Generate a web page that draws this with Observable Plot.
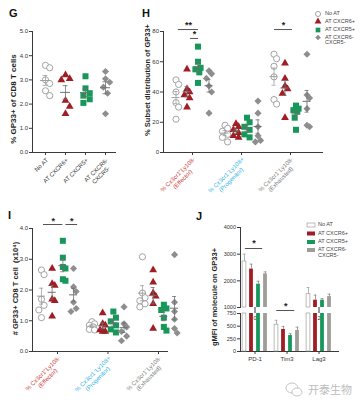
<!DOCTYPE html>
<html><head><meta charset="utf-8">
<script src="https://cdn.jsdelivr.net/npm/d3@7"></script>
<script src="https://cdn.jsdelivr.net/npm/@observablehq/plot@0.6"></script>
<style>
html,body{margin:0;padding:0;background:#fff;}
#root{position:relative;width:360px;height:406px;overflow:hidden;font-family:"Liberation Sans",Arial,Helvetica,sans-serif;}
#root svg{overflow:visible;}
.letter{position:absolute;font-weight:bold;font-size:11px;line-height:11px;color:#111;}
</style></head>
<body><div id="root"></div>
<script>
// ---------------- DATA ----------------
const groups = ["No AT","AT CXCR6+","AT CXCR5+","AT CXCR6-CXCR5-"];
const groupTickLine1 = ["No AT","AT CXCR6+","AT CXCR5+","AT CXCR6-"];
const groupTickLine2 = ["","","","CXCR5-"];
const legendLine1 = ["No AT","AT CXCR6+","AT CXCR5+","AT CXCR6-"];
const legendLine2 = ["","","","CXCR5-"];

// Panel G: % GP33+ of CD8 T cells, per group
const gp33OfCD8 = [
  [3.6,3.5,3.0,2.85,2.55,2.35],
  [3.2,3.05,3.0,2.15,1.9,1.6],
  [3.15,2.65,2.45,2.35,2.2,2.05],
  [3.35,3.05,2.9,2.7,2.45,1.6]
];

// subsets
const subsetLine1 = ["% Cx3cr1\u207ALy108-","% Cx3cr1\u207BLy108+","% Cx3cr1\u207BLy108-"];
const subsetLine2 = ["(Effector)","(Progenitor)","(Exhausted)"];
const subsetColors = ["#cc3d3d","#35b3e2","#7d7d7d"];

// Panel H: % subset distribution of GP33+ (per group)
const pctEffector   = [[48,45,40,33,30,22],[55,42,40,38,36,30],[70,60,56,55,53,46],[54,52,49,44,40,26]];
const pctProgenitor = [[18,16,14,12,10,7],[19,17,15,13,11,10],[23,20,17,15,12,10],[34,26,17,11,8,7]];
const pctExhausted  = [[65,62,57,50,35,32],[59,49,44,42,39,23],[31,29,28,27,23,15],[65,38,36,29,18,17]];

// Panel I: # GP33+ CD8 T cell (x10^4)
const numEffector   = [[2.65,2.5,1.7,1.5,1.35,1.1],[2.7,2.2,2.15,1.7,1.65,1.15],[3.6,3.05,2.75,2.7,2.35,2.3],[2.7,2.1,1.95,1.6,1.4,1.3]];
const numProgenitor = [[0.97,0.9,0.85,0.8,0.72,0.7],[1.25,0.9,0.85,0.7,0.65,0.65],[1.3,1.1,0.98,0.85,0.72,0.62],[1.45,0.9,0.8,0.65,0.5,0.35]];
const numExhausted  = [[3.08,1.9,1.75,1.65,1.55,1.45],[2.65,2.25,1.9,1.8,1.55,0.75],[1.52,1.4,1.35,1.1,0.8,0.68],[3.15,1.6,1.3,1.05,0.75,0.6]];

// Panel J: gMFI of molecule on GP33+ (mean, SEM) per group x molecule
const molecules = ["PD-1","Tim3","Lag3"];
const gmfiMean = [[2725,530,1500],[2440,435,1275],[1875,315,1275],[2260,415,1410]];
const gmfiErr  = [[275,85,250],[185,60,190],[110,35,60],[75,65,90]];

// axis ticks
const gTicks = [0,1,2,3,4,5];
const hTicks = [0,20,40,60,80];
const iTicks = [0,1,2,3,4];
const jUpperTicks = [1000,2000,3000,4000];
const jLowerTicks = [0,250,500,750];

// ---------------- STYLE ----------------
const FONT = '"Liberation Sans", Arial, Helvetica, sans-serif';
const AXIS = "#3a3a3a";
const STY = [
  {symbol:"circle",   r:3.1, fill:"white",   stroke:"#a3a3a3", sw:1, meanColor:"#a0a0a0", barFill:"white",   barStroke:"#a0a0a0", err:"#a0a0a0"},
  {symbol:"triangle", r:2.9, fill:"#a11d24", stroke:"none",    sw:0, meanColor:"#707070", barFill:"#a11d24", barStroke:"none",    err:"#8a8a8a"},
  {symbol:"square",   r:3.4, fill:"#17985a", stroke:"none",    sw:0, meanColor:"#707070", barFill:"#17985a", barStroke:"none",    err:"#8a8a8a"},
  {symbol:"diamond2", r:3.2, fill:"#8e8e8e", stroke:"none",    sw:0, meanColor:"#707070", barFill:"#9d9d99", barStroke:"none",    err:"#8a8a8a"}
];

const root = document.getElementById("root");
function place(el, left, top){ el.style.position="absolute"; el.style.left=left+"px"; el.style.top=top+"px"; root.appendChild(el); return el; }
const ctx = document.createElement("canvas").getContext("2d");
function textW(s, fs){ ctx.font = `${fs}px ${FONT}`; return ctx.measureText(s).width; }

function beeswarm(vals, pxY, step){
  const idx = d3.range(vals.length).sort((a,b)=>vals[b]-vals[a]);
  const placed = [], off = new Array(vals.length);
  const cands = [0, step, -step, step*0.5, -step*0.5];
  const D = 6.5;
  for (const i of idx){
    const y = vals[i]*pxY;
    let best = 0, bestScore = -Infinity;
    for (const c of cands){
      let md = Infinity;
      for (const p of placed) md = Math.min(md, Math.hypot(p.x-c, p.y-y));
      const score = Math.min(md, D) - Math.abs(c)*0.01;
      if (score > bestScore + 1e-9){ bestScore = score; best = c; }
    }
    placed.push({x:best, y}); off[i] = best;
  }
  return off;
}

function rotLabelMarks(cats, line1, line2, colors, fs, yBase, dyBase){
  const a = Math.PI/4, u=[Math.cos(a), -Math.sin(a)], n=[Math.sin(a), Math.cos(a)], lh = fs*1.15;
  const marks = [];
  cats.forEach((c,i)=>{
    marks.push(Plot.text([c], {x:d=>d, y:()=>yBase, text:()=>line1[i], rotate:-45, textAnchor:"end", lineAnchor:"top", dy:dyBase, fill:colors[i], fontSize:fs}));
    if (line2[i]){
      const L1 = textW(line1[i], fs);
      const dx = -L1/2*u[0] + lh*n[0], dy = dyBase - L1/2*u[1] + lh*n[1];
      marks.push(Plot.text([c], {x:d=>d, y:()=>yBase, text:()=>line2[i], rotate:-45, textAnchor:"middle", lineAnchor:"top", dx, dy, fill:colors[i], fontSize:fs}));
    }
  });
  return marks;
}

function dotPanel(o){
  const pxX = (o.xRange[1]-o.xRange[0])/(o.xDomain[1]-o.xDomain[0]);
  const frameH = o.height - o.mT - o.mB;
  const pxY = frameH/(o.yDomain[1]-o.yDomain[0]);
  const dots = [], stats = [];
  for (const it of o.items){
    const off = beeswarm(it.vals, pxY, o.swarmStep);
    it.vals.forEach((v,i)=>dots.push({x: it.xc + off[i]/pxX, y: v, grp: it.grp}));
    const m = d3.mean(it.vals), s = d3.deviation(it.vals)/Math.sqrt(it.vals.length);
    stats.push({xc: it.xc, m, lo: m-s, hi: m+s, grp: it.grp});
  }
  const mh = o.meanHalf/pxX, ch = o.capHalf/pxX;
  const marks = [
    Plot.frame({anchor:"left", stroke:AXIS}),
    Plot.frame({anchor:"bottom", stroke:AXIS}),
    Plot.axisY({ticks:o.yTicks, tickSize:3, tickPadding:1.5, fontSize:o.fs, stroke:AXIS, fill:"#333", label:null}),
    Plot.axisX({ticks:o.cats, tickSize:3, tickFormat:()=>"", stroke:AXIS, label:null})
  ];
  for (let g=0; g<4; g++){
    const s = STY[g];
    marks.push(Plot.dot(dots.filter(d=>d.grp===g), {x:"x", y:"y", symbol:s.symbol, r:s.r, fill:s.fill, stroke:s.stroke, strokeWidth:s.sw}));
  }
  for (let g=0; g<4; g++){
    const st = stats.filter(d=>d.grp===g), c = STY[g].meanColor;
    marks.push(Plot.ruleY(st, {y:"m", x1:d=>d.xc-mh, x2:d=>d.xc+mh, stroke:c, strokeWidth:1}));
    marks.push(Plot.ruleX(st, {x:"xc", y1:"lo", y2:"hi", stroke:c, strokeWidth:0.8}));
    marks.push(Plot.ruleY(st, {y:"lo", x1:d=>d.xc-ch, x2:d=>d.xc+ch, stroke:c, strokeWidth:0.8}));
    marks.push(Plot.ruleY(st, {y:"hi", x1:d=>d.xc-ch, x2:d=>d.xc+ch, stroke:c, strokeWidth:0.8}));
  }
  marks.push(...rotLabelMarks(o.cats, o.line1, o.line2, o.colors, o.fs, o.yDomain[0], o.labDyBase));
  marks.push(Plot.text([o.ylabel], {frameAnchor:"left", text:d=>d, rotate:-90, textAnchor:"middle", lineAnchor:"middle", dx:o.labDx, dy:o.labDy, fontSize:o.labFs, fontWeight:"bold", fill:"#1e1e1e"}));
  if (o.stars){
    marks.push(Plot.ruleY(o.stars, {y:"y", x1:"x1", x2:"x2", stroke:"#555", strokeWidth:1}));
    marks.push(Plot.text(o.stars, {x:d=>(d.x1+d.x2)/2, y:"ty", text:"label", fontSize:9, fontWeight:"bold", fill:"#222"}));
  }
  const svg = Plot.plot({
    width:o.width, height:o.height,
    marginLeft:o.mL, marginRight:o.mR, marginTop:o.mT, marginBottom:o.mB,
    x:{type:"linear", domain:o.xDomain, range:o.xRange, label:null},
    y:{type:"linear", domain:o.yDomain, label:null},
    style:{fontFamily:FONT, fontSize:o.fs+"px", background:"transparent", overflow:"visible", color:"#333"},
    marks
  });
  place(svg, o.left, o.top);
}

// ---------------- PANEL G ----------------
dotPanel({
  left:0, top:0, width:125, height:200, mL:32, mR:10, mT:31, mB:48,
  xDomain:[0,3], xRange:[45,105], yDomain:[0,5], yTicks:gTicks,
  items: groups.map((g,i)=>({xc:i, grp:i, vals:gp33OfCD8[i]})),
  swarmStep:4.2, meanHalf:5, capHalf:2.5, fs:6,
  cats:[0,1,2,3], line1:groupTickLine1, line2:groupTickLine2, colors:["#333","#333","#333","#333"], labDyBase:5,
  ylabel:"% GP33+ of CD8 T cells", labDx:-19, labDy:7, labFs:8
});

// ---------------- PANEL H ----------------
const hSeries = [pctEffector, pctProgenitor, pctExhausted];
const hPxX = 49, hSub = 11/hPxX;
const hPos = (c,g)=> c + (g-1.5)*hSub;
dotPanel({
  left:130, top:0, width:230, height:200, mL:33, mR:38, mT:31, mB:48,
  xDomain:[0,2], xRange:[62,160], yDomain:[0,80], yTicks:hTicks,
  items: hSeries.flatMap((ser,c)=>ser.map((vals,g)=>({xc:hPos(c,g), grp:g, vals}))),
  swarmStep:2.6, meanHalf:4, capHalf:2, fs:6,
  cats:[0,1,2], line1:subsetLine1, line2:subsetLine2, colors:subsetColors, labDyBase:4,
  ylabel:"% Subset distribution of GP33+", labDx:-16, labDy:-12, labFs:7.5,
  stars:[
    {x1:hPos(0,0)+0.05, x2:hPos(0,2)+0.01, y:81.3, ty:84.3, label:"**"},
    {x1:hPos(0,1)+0.07, x2:hPos(0,2)+0.01, y:75.4, ty:78.4, label:"*"},
    {x1:hPos(2,0)+0.01, x2:hPos(2,2)-0.07, y:81.3, ty:84.3, label:"*"}
  ]
});

// ---------------- PANEL I ----------------
const iSeries = [numEffector, numProgenitor, numExhausted];
const iPxX = 50.5, iSub = 10.7/iPxX;
const iPos = (c,g)=> c + (g-1.5)*iSub;
dotPanel({
  left:0, top:200, width:185, height:206, mL:32, mR:18, mT:28, mB:55,
  xDomain:[0,2], xRange:[57,158], yDomain:[0,4], yTicks:iTicks,
  items: iSeries.flatMap((ser,c)=>ser.map((vals,g)=>({xc:iPos(c,g), grp:g, vals}))),
  swarmStep:2.6, meanHalf:4, capHalf:2, fs:6,
  cats:[0,1,2], line1:subsetLine1, line2:subsetLine2, colors:subsetColors, labDyBase:4,
  ylabel:"# GP33+ CD8 T cell  (x10\u2074)", labDx:-17, labDy:-1.5, labFs:7.5,
  stars:[
    {x1:iPos(0,0)+0.04, x2:iPos(0,2), y:4.13, ty:4.25, label:"*"},
    {x1:iPos(0,2)+0.06, x2:iPos(0,3)+0.08, y:4.13, ty:4.25, label:"*"}
  ]
});

// ---------------- PANEL J ----------------
const jPx = 32;
const J_X = {type:"linear", domain:[0,2], range:[64.5,128.5], label:null};
const jRows = [];
molecules.forEach((m,mi)=>groups.forEach((g,gi)=>jRows.push({mi, gi, xc: mi + (gi-1.5)*7/jPx, v: gmfiMean[gi][mi], e: gmfiErr[gi][mi]})));
const bhw = 1.9/jPx, jch = 1.4/jPx;
function barMarks(lo, hi){
  const ms = [];
  for (let g=0; g<4; g++){
    const s = STY[g];
    const r = jRows.filter(d=>d.gi===g && d.v>lo);
    ms.push(Plot.rect(r, {x1:d=>d.xc-bhw, x2:d=>d.xc+bhw, y1:()=>lo, y2:d=>Math.min(d.v,hi), fill:s.barFill, stroke:s.barStroke, strokeWidth:0.7}));
    const re = r.filter(d=>d.v+d.e<=hi && d.v<hi);
    ms.push(Plot.ruleX(re, {x:"xc", y1:"v", y2:d=>d.v+d.e, stroke:s.err, strokeWidth:0.8}));
    ms.push(Plot.ruleY(re, {y:d=>d.v+d.e, x1:d=>d.xc-jch, x2:d=>d.xc+jch, stroke:s.err, strokeWidth:0.8}));
  }
  return ms;
}
const jStyle = {fontFamily:FONT, fontSize:"5.5px", background:"transparent", overflow:"visible", color:"#333"};
const jUpperStars = [{x1:-0.3, x2:0.24, y:3212, ty:3420, label:"*"}];
const jLowerStars = [{x1:0.68, x2:1.24, y:809, ty:905, label:"*"}];
const jUpper = Plot.plot({
  width:170, height:88, marginLeft:50, marginRight:22, marginTop:7, marginBottom:1,
  x:J_X, y:{type:"linear", domain:[1000,4000], label:null}, style:jStyle,
  marks:[
    Plot.frame({anchor:"left", stroke:AXIS}),
    Plot.axisY({ticks:jUpperTicks, tickFormat:d3.format("d"), tickSize:3, tickPadding:1.5, fontSize:5.5, stroke:AXIS, label:null}),
    ...barMarks(1000, 4000),
    Plot.ruleY(jUpperStars, {y:"y", x1:"x1", x2:"x2", stroke:"#555", strokeWidth:1}),
    Plot.text(jUpperStars, {x:d=>(d.x1+d.x2)/2, y:"ty", text:"label", fontSize:9, fontWeight:"bold", fill:"#222"})
  ]
});
place(jUpper, 190, 220);
const jLower = Plot.plot({
  width:170, height:63, marginLeft:50, marginRight:22, marginTop:5, marginBottom:20,
  x:J_X, y:{type:"linear", domain:[0,750], label:null}, style:jStyle,
  marks:[
    Plot.frame({anchor:"left", stroke:AXIS}),
    Plot.frame({anchor:"bottom", stroke:AXIS}),
    Plot.axisY({ticks:jLowerTicks, tickFormat:d3.format("d"), tickSize:3, tickPadding:1.5, fontSize:5.5, stroke:AXIS, label:null}),
    Plot.axisX({ticks:[0,1,2], tickFormat:d=>molecules[d], tickSize:3, tickPadding:2, fontSize:6, stroke:AXIS, label:null}),
    ...barMarks(0, 750),
    Plot.ruleY(jLowerStars, {y:"y", x1:"x1", x2:"x2", stroke:"#555", strokeWidth:1}),
    Plot.text(jLowerStars, {x:d=>(d.x1+d.x2)/2, y:"ty", text:"label", fontSize:9, fontWeight:"bold", fill:"#222"})
  ]
});
place(jLower, 190, 308);

// J y label
{
  const s = d3.create("svg").attr("width",16).attr("height",130);
  s.append("text").attr("transform","translate(9,65) rotate(-90)").attr("text-anchor","middle").attr("dominant-baseline","middle")
    .attr("font-family",FONT).attr("font-size",7.5).attr("font-weight","bold").attr("fill","#1e1e1e").text("gMFI of molecule on GP33+");
  place(s.node(), 206, 232);
}

// ---------------- LEGENDS ----------------
{
  const s = d3.create("svg").attr("width",48).attr("height",44);
  const rowsY = [6,13.5,22,29.5];
  const syms = [d3.symbolCircle, d3.symbolTriangle, d3.symbolSquare, d3.symbolDiamond2];
  const sizes = [20, 20, 22, 20];
  groups.forEach((g,i)=>{
    s.append("path").attr("d", d3.symbol(syms[i], sizes[i])()).attr("transform",`translate(6,${rowsY[i]})`)
      .attr("fill", STY[i].fill).attr("stroke", STY[i].stroke).attr("stroke-width", STY[i].sw);
    s.append("text").attr("x",13).attr("y",rowsY[i]).attr("dominant-baseline","middle")
      .attr("font-family",FONT).attr("font-size",5.5).attr("fill","#444").text(legendLine1[i]);
    if (legendLine2[i]) s.append("text").attr("x",13).attr("y",rowsY[i]+5.5).attr("dominant-baseline","middle")
      .attr("font-family",FONT).attr("font-size",5.5).attr("fill","#444").text(legendLine2[i]);
  });
  place(s.node(), 312, 8);
}
{
  const s = d3.create("svg").attr("width",55).attr("height",44);
  const rowsY = [6,14.5,23,31];
  groups.forEach((g,i)=>{
    s.append("rect").attr("x",2).attr("y",rowsY[i]-2).attr("width",8).attr("height",4)
      .attr("fill", STY[i].barFill).attr("stroke", STY[i].barStroke).attr("stroke-width",0.7);
    s.append("text").attr("x",13).attr("y",rowsY[i]).attr("dominant-baseline","middle")
      .attr("font-family",FONT).attr("font-size",5.5).attr("fill","#444").text(legendLine1[i]);
    if (legendLine2[i]) s.append("text").attr("x",13).attr("y",rowsY[i]+5.5).attr("dominant-baseline","middle")
      .attr("font-family",FONT).attr("font-size",5.5).attr("fill","#444").text(legendLine2[i]);
  });
  place(s.node(), 305, 219);
}

// ---------------- LETTERS & WATERMARK ----------------
[["G",9,8],["H",142,8],["I",8,210],["J",196,211]].forEach(([t,x,y])=>{
  const d = document.createElement("div"); d.className="letter"; d.textContent=t; place(d,x,y);
});
{
  const s = d3.create("svg").attr("width",75).attr("height",20);
  s.append("ellipse").attr("cx",8).attr("cy",8).attr("rx",6).attr("ry",5).attr("fill","none").attr("stroke","#c4c4c4").attr("stroke-width",1);
  s.append("ellipse").attr("cx",13).attr("cy",12).attr("rx",5).attr("ry",4).attr("fill","#fff").attr("stroke","#c4c4c4").attr("stroke-width",1);
  s.append("text").attr("x",24).attr("y",14).attr("font-family",'"Noto Sans CJK SC", sans-serif').attr("font-size",11).attr("fill","#bdbdbd").text("开泰生物");
  place(s.node(), 284, 380);
}
</script>
</body></html>
